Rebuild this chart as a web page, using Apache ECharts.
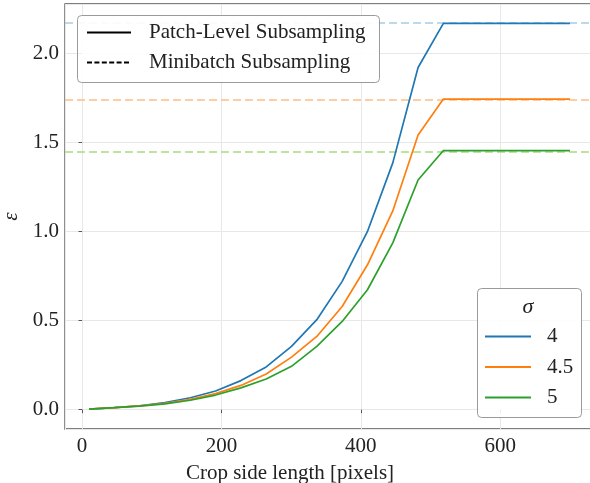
<!DOCTYPE html>
<html>
<head>
<meta charset="utf-8">
<script src="https://cdn.jsdelivr.net/npm/echarts@6/dist/echarts.min.js"></script>
<style>
  html, body { margin: 0; padding: 0; background: #ffffff; }
  #chart { width: 590px; height: 483px; }
</style>
</head>
<body>
<div id="chart"></div>
<script>
// Crop side length (pixels)
const cropSide = [10, 46.3, 82.6, 118.9, 155.3, 191.6, 227.9, 264.2, 300.5, 336.8,
                  373.2, 409.5, 445.8, 482.1, 518.4, 554.7, 591.1, 627.4, 663.7, 700];

// Patch-level subsampling epsilon, one array per sigma
const epsSigma4  = [0.003, 0.012, 0.022, 0.040, 0.067, 0.105, 0.163, 0.240, 0.355, 0.505,
                    0.720, 1.000, 1.385, 1.920, 2.168, 2.168, 2.168, 2.168, 2.168, 2.168];
const epsSigma45 = [0.003, 0.012, 0.021, 0.036, 0.058, 0.090, 0.136, 0.200, 0.295, 0.411,
                    0.579, 0.813, 1.115, 1.541, 1.743, 1.743, 1.743, 1.743, 1.743, 1.743];
const epsSigma5  = [0.003, 0.011, 0.020, 0.033, 0.053, 0.082, 0.122, 0.172, 0.243, 0.355,
                    0.495, 0.673, 0.936, 1.289, 1.454, 1.454, 1.454, 1.454, 1.454, 1.454];

// Minibatch subsampling epsilon (constant in crop size)
const epsMinibatch = [2.168, 1.743, 1.454];

const sigmaLabels = ['4', '4.5', '5'];
const lineColors  = ['#1f77b4', '#ff7f0e', '#2ca02c'];
const dashColors  = ['#a8cbe4', '#ffbd82', '#a9db7f'];

const FONT = 'Liberation Serif';
const FS = 21;
const curves = [epsSigma4, epsSigma45, epsSigma5];

const series = curves.map((vals, i) => ({
  name: sigmaLabels[i],
  type: 'line',
  data: cropSide.map((x, k) => [x, vals[k]]),
  showSymbol: false,
  symbol: 'none',
  z: 3,
  lineStyle: { color: lineColors[i], width: 1.7 },
  itemStyle: { color: lineColors[i] },
  markLine: {
    silent: true,
    symbol: 'none',
    label: { show: false },
    z: 2,
    lineStyle: { color: dashColors[i], type: [8, 4], width: 1.7 },
    data: [{ yAxis: epsMinibatch[i] }]
  }
}));

// style-only entries for the line-type legend
series.push({
  name: 'Patch-Level Subsampling', type: 'line', data: [], symbol: 'none',
  lineStyle: { color: '#000', width: 1.5, type: 'solid' }, itemStyle: { color: '#000' }
});
series.push({
  name: 'Minibatch Subsampling', type: 'line', data: [], symbol: 'none',
  lineStyle: { color: '#000', width: 1.5, type: [5, 2.4] }, itemStyle: { color: '#000' }
});

const chart = echarts.init(document.getElementById('chart'), null, { renderer: 'canvas' });

const legendText = { color: '#222222', fontSize: FS, fontFamily: FONT };

chart.setOption({
  animation: false,
  backgroundColor: '#ffffff',
  textStyle: { fontFamily: FONT },
  grid: {
    left: 65, right: -4, top: 4, bottom: 54,
    outerBoundsMode: 'none',
    containLabel: false,
    show: true, borderColor: '#555555', borderWidth: 1.3, backgroundColor: 'transparent'
  },
  xAxis: {
    type: 'value',
    min: -24.5, max: 734.5,
    minInterval: 200, maxInterval: 200,
    axisLine: { show: false },
    axisTick: { show: true, length: 3.5, lineStyle: { color: '#555555', width: 1 } },
    splitLine: { show: true, lineStyle: { color: '#e8e8e8', width: 1 } },
    axisLabel: {
      showMinLabel: false, showMaxLabel: false,
      margin: 7, color: '#222222', fontSize: FS, fontFamily: FONT
    }
  },
  yAxis: {
    type: 'value',
    min: -0.1085, max: 2.2765,
    minInterval: 0.5, maxInterval: 0.5,
    axisLine: { show: false },
    axisTick: { show: true, length: 3.5, lineStyle: { color: '#555555', width: 1 } },
    splitLine: { show: true, lineStyle: { color: '#e8e8e8', width: 1 } },
    axisLabel: {
      showMinLabel: false, showMaxLabel: false,
      margin: 6, color: '#222222', fontSize: FS, fontFamily: FONT,
      formatter: v => v.toFixed(1)
    },
    name: 'ε',
    nameLocation: 'middle',
    nameGap: 36,
    nameTextStyle: { color: '#222222', fontSize: FS, fontFamily: FONT, fontStyle: 'italic' }
  },
  legend: [
    {
      data: ['Patch-Level Subsampling', 'Minibatch Subsampling'],
      orient: 'vertical',
      left: 81, top: 17,
      itemWidth: 44, itemHeight: 14, itemGap: 9,
      itemStyle: { opacity: 0, borderWidth: 0 },
      z: 6,
      textStyle: Object.assign({ padding: [0, 0, 0, 13] }, legendText)
    },
    {
      data: sigmaLabels,
      orient: 'vertical',
      left: 479, top: 321,
      itemWidth: 46, itemHeight: 14, itemGap: 9.5,
      itemStyle: { opacity: 0, borderWidth: 0 },
      z: 6,
      textStyle: Object.assign({ padding: [0, 0, 0, 11] }, legendText)
    }
  ],
  graphic: [
    {
      type: 'rect', z: 5, silent: true,
      shape: { x: 77.5, y: 15.5, width: 302, height: 67, r: 4 },
      style: { fill: 'rgba(255,255,255,0.9)', stroke: '#9a9a9a', lineWidth: 1 }
    },
    {
      type: 'rect', z: 5, silent: true,
      shape: { x: 477.5, y: 288.5, width: 104, height: 129, r: 4 },
      style: { fill: 'rgba(255,255,255,0.9)', stroke: '#9a9a9a', lineWidth: 1 }
    },
    {
      type: 'text', z: 6, silent: true,
      style: { x: 528, y: 307, text: 'σ', textAlign: 'center', textVerticalAlign: 'middle',
               font: 'italic 22px "' + FONT + '"', fill: '#222222' }
    },
    {
      type: 'text', z: 6, silent: true,
      style: { x: 290, y: 473, text: 'Crop side length [pixels]', textAlign: 'center',
               textVerticalAlign: 'middle', font: FS + 'px "' + FONT + '"', fill: '#222222' }
    }
  ],
  series: series
});
</script>
</body>
</html>
